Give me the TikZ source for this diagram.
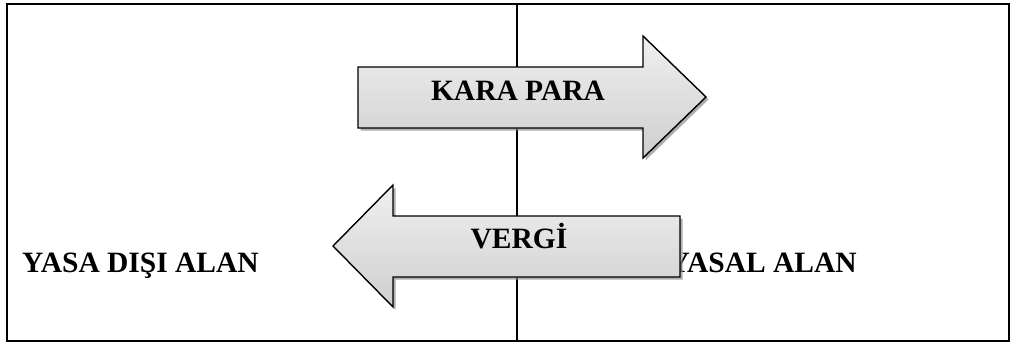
\documentclass[tikz,border=0pt]{standalone}
\usepackage{fontspec}
\setmainfont{Liberation Serif}
\usetikzlibrary{shadows}
\begin{document}
\begin{tikzpicture}[x=1pt,y=-1pt,
  frame/.style={draw=black,line width=2pt},
  divider/.style={draw=black,line width=1.6pt},
  flowarrow/.style={draw=black,line width=1.4pt,line join=miter,
    top color=gray!12,bottom color=gray!38,
    drop shadow={shadow xshift=2.5pt,shadow yshift=-2.5pt,fill=black!45,opacity=0.7}},
  label/.style={inner sep=0pt,font=\fontsize{29.5}{34}\selectfont\bfseries}]
\useasboundingbox (0,0) rectangle (1011,343);
% outer frame and the dividing line
\path[frame] (7,4) rectangle (1009,341);
\coordinate (divtop) at (517,4);
\coordinate (divbot) at (517,341);
\path[divider] (divtop) -- (divbot);
% area names
\node[label,anchor=base west] (illegal) at (22,272) {YASA DIŞI ALAN};
\node[label,anchor=base east] (legal) at (857,272) {YASAL ALAN};
% rightward arrow
\path[flowarrow] (358,67) -- (643,67) -- (643,36) -- (706,97) -- (643,158)
  -- (643,128) -- (358,128) -- cycle;
\node[label,anchor=base] (money) at (518,100) {KARA PARA};
% leftward arrow
\path[flowarrow] (680,216) -- (393,216) -- (393,185) -- (333,246) -- (393,307)
  -- (393,277) -- (680,277) -- cycle;
\node[label,anchor=base] (tax) at (519,248) {VERGİ};
\end{tikzpicture}
\end{document}
